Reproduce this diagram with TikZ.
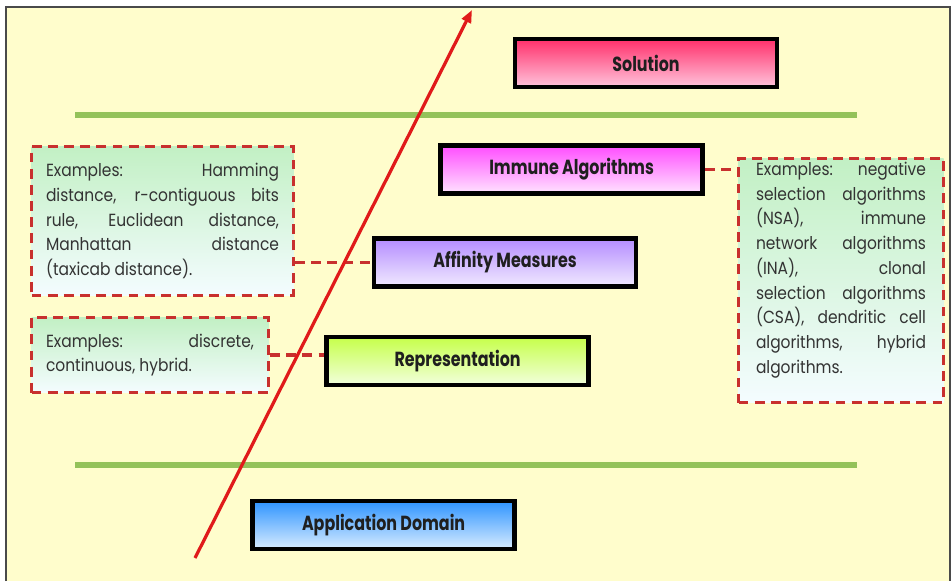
\documentclass[tikz,border=0pt]{standalone}
\usepackage{fontspec}
\setmainfont{Poppins}
\newfontfamily\levelfont{Poppins}[FakeStretch=0.78]
\newfontfamily\exfont{Poppins}[FakeStretch=0.88]
\usetikzlibrary{arrows.meta,positioning,calc}
\definecolor{Paper}{HTML}{FFFDCC}
\definecolor{Frame}{HTML}{4A4A4A}
\definecolor{Leaf}{HTML}{94C25A}
\definecolor{Crimson}{HTML}{E01A1A}
\definecolor{DashRed}{HTML}{C8302E}
\definecolor{MintTop}{HTML}{C2F0C4}
\definecolor{MintBot}{HTML}{F4FCFF}
\definecolor{SolTop}{HTML}{FF2F6A}
\definecolor{SolBot}{HTML}{FFC4DC}
\definecolor{ImmTop}{HTML}{FF4DFF}
\definecolor{ImmBot}{HTML}{FFE4FF}
\definecolor{AffTop}{HTML}{B48CFF}
\definecolor{AffBot}{HTML}{F1EAFF}
\definecolor{RepTop}{HTML}{C6FF4A}
\definecolor{RepBot}{HTML}{F2FFDC}
\definecolor{AppTop}{HTML}{2E94FF}
\definecolor{AppBot}{HTML}{D8ECFF}

\begin{document}
\begin{tikzpicture}
    \tikzset{level/.style={draw=black,line width=3.2pt,minimum width=6.55cm,minimum height=1.2cm,
      font=\levelfont\fontsize{14.5}{16}\selectfont\bfseries,text=black!88},
      exbox/.style={draw=DashRed,line width=2.3pt,dash pattern=on 7pt off 4.5pt,
      top color=MintTop,bottom color=MintBot},
      extext/.style={align=justify,inner sep=0pt,text=black!80,
      font=\exfont\fontsize{12.5}{17.6}\selectfont},
      link/.style={DashRed,line width=2.3pt,dash pattern=on 7pt off 4.5pt}}

    % page
    \fill[white] (0,0) rectangle (23.8,-14.525);
    \fill[Paper] (0.15,-0.175) rectangle (23.75,-14.525);
    \draw[Frame,line width=0.9pt] (0.15,-14.525) |- (23.75,-0.175) -- (23.75,-14.525);
    \useasboundingbox (0,0) rectangle (23.8,-14.525);

    % separators
    \draw[Leaf,line width=3.6pt] (1.875,-2.875) -- (21.425,-2.875);
    \draw[Leaf,line width=3.6pt] (1.875,-11.625) -- (21.425,-11.625);

    % levels
    \foreach \x/\y/\id/\ctop/\cbot/\txt in {16.15/-1.575/sol/SolTop/SolBot/Solution,
        14.29/-4.24/imm/ImmTop/ImmBot/Immune Algorithms,
        12.625/-6.5625/aff/AffTop/AffBot/Affinity Measures,
        11.44/-9.025/rep/RepTop/RepBot/Representation,
        9.59/-13.125/app/AppTop/AppBot/Application Domain}{
      \node[level,top color=\ctop,bottom color=\cbot] (\id) at (\x,\y) {\txt};
    }

    % examples
    \node[exbox,minimum width=6.55cm,minimum height=3.725cm] (ex1) at (4.0625,-5.525) {};
    \node[extext,text width=5.825cm] (ex1txt) at (ex1.center)
      {Examples: Hamming\linebreak distance, r-contiguous bits\linebreak rule, Euclidean distance,\linebreak
       Manhattan distance\linebreak (taxicab distance).};
    \node[exbox,minimum width=5.925cm,minimum height=1.875cm] (ex2) at (3.75,-8.875) {};
    \node[extext,text width=5.2cm] (ex2txt) at (ex2.center)
      {Examples: discrete,\linebreak continuous, hybrid.};
    \node[exbox,minimum width=5.125cm,minimum height=6.1cm] (exr) at (21.025,-7.0125) {};
    \node[extext,text width=4.25cm,anchor=north] (exrtxt) at ($(exr.north)+(0,-0.12)$)
      {Examples: negative\linebreak selection algorithms\linebreak (NSA), immune\linebreak
       network algorithms\linebreak (INA), clonal\linebreak selection algorithms\linebreak
       (CSA), dendritic cell\linebreak algorithms, hybrid\linebreak algorithms.};

    \draw[link] (aff.west -| ex1.east) -- (aff.west);
    \draw[link] (ex2.east) -- (ex2.east -| rep.west);
    \draw[link] (imm.east) -- (imm.east -| exr.west);

    % progress arrow
    \coordinate (tail) at (4.875,-13.95);
    \coordinate (head) at (11.8,-0.25);
    \draw[Crimson,line width=2.3pt,-{Triangle[length=9pt,width=7pt]}] (tail) -- (head);
\end{tikzpicture}
\end{document}
